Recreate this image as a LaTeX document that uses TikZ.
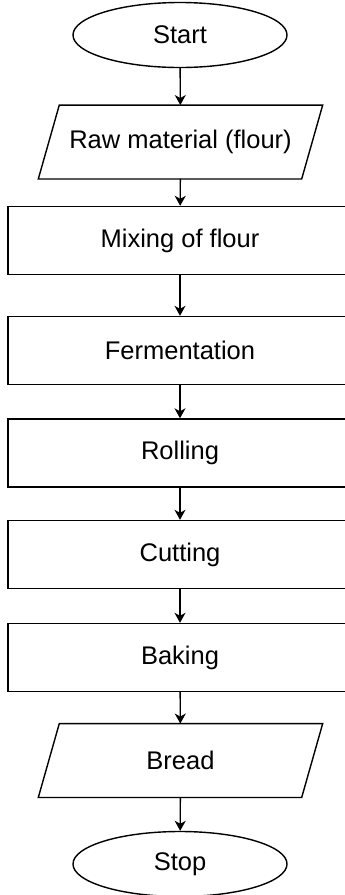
\documentclass[tikz,border=0pt]{standalone}
\usepackage{fontspec}
\setmainfont{Liberation Sans}
\usetikzlibrary{shapes.geometric,arrows.meta}

\tikzset{
  base/.style={line width=1.4pt, inner sep=0pt,
    font=\fontsize{25.5}{30}\selectfont},
  terminal/.style={base, draw=black, ellipse, minimum width=214pt, minimum height=65pt},
  % data box: an undrawn frame whose outline is drawn as a slanted parallelogram
  io/.style={base, rectangle, minimum width=283pt, minimum height=72.5pt},
  outline/.style={draw=black, line width=1.4pt, line join=miter},
  process/.style={base, draw=black, rectangle, minimum width=344pt, minimum height=68pt},
  flow/.style={draw=black, line width=1.4pt,
    -{Stealth[length=10pt, width=11pt, inset=3pt]}}
}

\newcommand{\slantbox}[1]{%
  \draw[outline] ([xshift=21pt]#1.north west) -- (#1.north east)
    -- ([xshift=-21pt]#1.south east) -- (#1.south west) -- cycle;}

\begin{document}
\begin{tikzpicture}[x=1pt, y=-1pt]
  \useasboundingbox (0,0) rectangle (345,895);
  \clip (0,0) rectangle (345,895);

  \node[terminal] (start) at (180,35)      {Start};
  \node[io]       (raw)   at (180.5,142)   {Raw material (flour)};
  \node[process]  (mix)   at (180,240.5)   {Mixing of flour};
  \node[process]  (ferm)  at (180,350.5)   {Fermentation};
  \node[process]  (roll)  at (180,453)     {Rolling};
  \node[process]  (cut)   at (180,554.5)   {Cutting};
  \node[process]  (bake)  at (180,657.5)   {Baking};
  \node[io]       (bread) at (180.5,760.5) {Bread};
  \node[terminal] (stop)  at (180,864)     {Stop};

  \slantbox{raw}
  \slantbox{bread}

  \draw[flow] (start) -- (raw);
  \draw[flow] (raw)   -- (mix);
  \draw[flow] (mix)   -- (ferm);
  \draw[flow] (ferm)  -- (roll);
  \draw[flow] (roll)  -- (cut);
  \draw[flow] (cut)   -- (bake);
  \draw[flow] (bake)  -- (bread);
  \draw[flow] (bread) -- (stop);
\end{tikzpicture}
\end{document}
